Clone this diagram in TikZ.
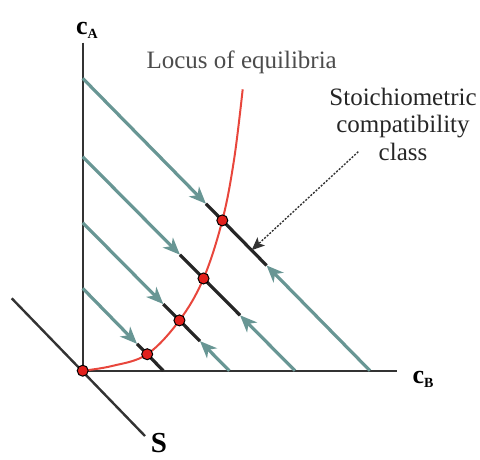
\documentclass[tikz,border=0pt]{standalone}
\usepackage{fontspec}
\setmainfont{Liberation Serif}
\newfontfamily\tnr{Liberation Serif}
\usetikzlibrary{arrows.meta,calc}
\definecolor{trajc}{RGB}{104,150,148}
\definecolor{eqred}{RGB}{226,32,28}
\definecolor{curvered}{RGB}{232,70,60}
\begin{document}
\begin{tikzpicture}[x=1pt,y=-1pt,
  axis/.style={line width=2.4pt, draw=black!80},
  traj/.style={line width=3.2pt, draw=trajc, -{Stealth[length=17pt,width=14pt,inset=5pt]}},
  eqseg/.style={line width=3.2pt, draw=black!85},
  eqdot/.style={circle, fill=eqred, draw=black, line width=1pt, inner sep=0pt, minimum size=11pt},
  lbl/.style={font=\tnr\fontsize{25}{27.5}\selectfont},
  axlbl/.style={inner sep=0pt, font=\tnr}]
\useasboundingbox (0,0) rectangle (480,459);
% axes
\coordinate (O) at (82.7,370.7);
\coordinate (Ytop) at (82.7,42.7);
\coordinate (Xend) at (396.7,370.7);
\coordinate (S1) at (11.7,298.3);
\coordinate (S2) at (145,436);
\draw[axis] (Ytop) -- (O) -- (Xend);
\draw[axis] (S1) -- (S2);
% stoichiometric lines
\coordinate (A1) at (82.7,78.3);  \coordinate (B1) at (370,370.7);
\coordinate (A2) at (82.7,156.7); \coordinate (B2) at (295,370.7);
\coordinate (A3) at (82.7,222.7); \coordinate (B3) at (229.3,370.7);
\coordinate (A4) at (82.7,288.3); \coordinate (B4) at (163.3,370.7);
\coordinate (U1) at ($(A1)!0.429!(B1)$); \coordinate (L1) at ($(A1)!0.640!(B1)$); \coordinate (E1) at ($(A1)!0.486!(B1)$);
\coordinate (U2) at ($(A2)!0.458!(B2)$); \coordinate (L2) at ($(A2)!0.741!(B2)$); \coordinate (E2) at ($(A2)!0.569!(B2)$);
\coordinate (U3) at ($(A3)!0.550!(B3)$); \coordinate (L3) at ($(A3)!0.800!(B3)$); \coordinate (E3) at ($(A3)!0.660!(B3)$);
\coordinate (U4) at ($(A4)!0.674!(B4)$); \coordinate (E4) at ($(A4)!0.800!(B4)$);
\coordinate (T1) at ($(A1)!0.588!(B1)$);
% green trajectories
\draw[traj] (A1) -- (U1);
\draw[traj] (B1) -- (L1);
\draw[traj] (A2) -- (U2);
\draw[traj] (B2) -- (L2);
\draw[traj] (A3) -- (U3);
\draw[traj] (B3) -- (L3);
\draw[traj] (A4) -- (U4);
% black segments
\draw[eqseg] (U1) -- (L1);
\draw[eqseg] (U2) -- (L2);
\draw[eqseg] (U3) -- (L3);
\draw[eqseg] (U4) -- (B4);
% locus curve
\coordinate (C1) at (112,366);
\coordinate (C2) at (234,160);
\coordinate (Ctop) at (242.7,89.3);
\draw[curvered, line width=2pt] plot[smooth, tension=0.6] coordinates {(O) (C1) (E4) (E3) (E2) (E1) (C2) (Ctop)};
% dots
\node[eqdot] (d0) at (O) {};
\node[eqdot] (d1) at (E1) {};
\node[eqdot] (d2) at (E2) {};
\node[eqdot] (d3) at (E3) {};
\node[eqdot] (d4) at (E4) {};
% labels
\node[lbl, text=black!70] (locus) at (241.7,62) {Locus of equilibria};
\node[lbl, text=black!85, align=center] (stoich) at (403,124) {Stoichiometric\\compatibility\\class};
\coordinate (D0) at (358.3,151.7);
\draw[black!80, line width=1.4pt, dash pattern=on 2pt off 1.5pt, -{Stealth[length=13pt,width=11pt,inset=3pt]}] (D0) -- (T1);
\node[axlbl] (cA) at (87,30) {\fontsize{26}{30}\selectfont\bfseries c\raisebox{-4pt}{\fontsize{14}{16}\selectfont A}};
\node[axlbl] (cB) at (423,379) {\fontsize{26}{30}\selectfont\bfseries c\raisebox{-4pt}{\fontsize{14}{16}\selectfont B}};
\node[axlbl, anchor=base] (S) at (159,452) {\fontsize{29}{34}\selectfont\bfseries S};
\end{tikzpicture}
\end{document}
